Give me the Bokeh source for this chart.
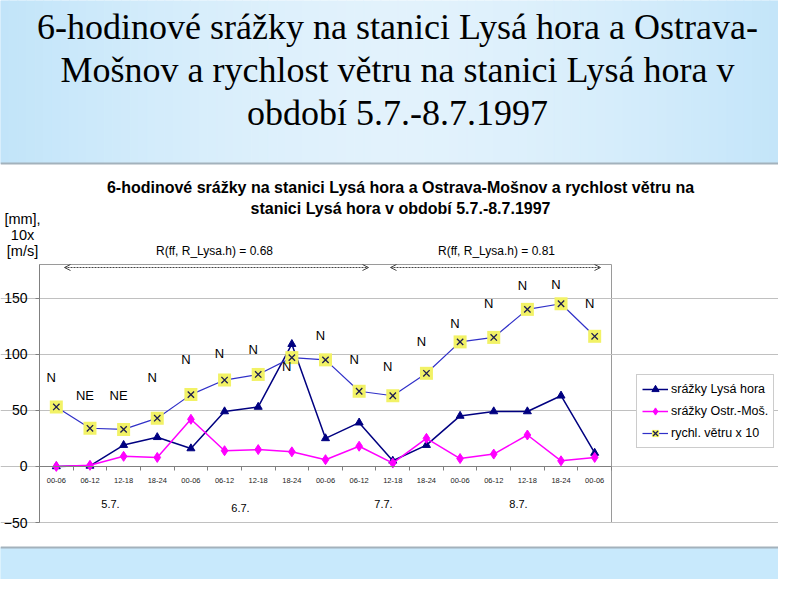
import numpy as np
from bokeh.plotting import figure
from bokeh.models import Range1d, FixedTicker, Legend, LegendItem, Arrow, OpenHead
from bokeh.core.properties import value
from bokeh.embed import file_html
from bokeh.resources import INLINE

# ---------------- data ----------------
slide_title = ["6-hodinové srážky na stanici Lysá hora a Ostrava-",
               "Mošnov a rychlost větru na stanici Lysá hora v",
               "období 5.7.-8.7.1997"]
chart_title = ["6-hodinové srážky na stanici Lysá hora a Ostrava-Mošnov a rychlost větru na",
               "stanici Lysá hora v období 5.7.-8.7.1997"]
y_title = ["[mm],", "10x", "[m/s]"]
periods = ["00-06", "06-12", "12-18", "18-24",
           "00-06", "06-12", "12-18", "18-24",
           "00-06", "06-12", "12-18", "18-24",
           "00-06", "06-12", "12-18", "18-24",
           "00-06"]
days = ["5.7.", "6.7.", "7.7.", "8.7."]
srazky_lysa = [0, 0.5, 19, 26, 16, 49, 53, 109, 25, 39, 5, 19, 45, 49, 49, 63, 12]
srazky_ostrava = [0, 1, 9, 8, 42, 14, 15, 13, 6, 18, 3, 25, 7, 11, 28, 5, 8]
vitr_x10 = [53, 34, 33, 43, 64, 77, 82, 97, 95, 67, 63, 83, 111, 115, 140, 145, 116]
smer_vetru = ["N", "NE", "NE", "N", "N", "N", "N", "N", "N",
              "N", "N", "N", "N", "N", "N", "N", "N"]
corr_labels = ["R(ff, R_Lysa.h) = 0.68", "R(ff, R_Lysa.h) = 0.81"]
series_names = ["srážky Lysá hora", "srážky Ostr.-Moš.", "rychl. větru x 10"]
y_ticks = [-50, 0, 50, 100, 150]

# ---------------- geometry (pixels of the reference picture) ----------------
W, H = 778, 579
PL, PR, PT, PB = 39, 611, 264, 522          # plot area
X0, X1 = 0, len(periods)
Y0, Y1 = -50, 180
SANS = "Liberation Sans"
SERIF = "Liberation Serif"


def dx(px):
    return X0 + (px - PL) / (PR - PL) * (X1 - X0)


def dy(py):
    return Y1 - (py - PT) / (PB - PT) * (Y1 - Y0)


p = figure(width=W, height=H, x_range=Range1d(dx(0), dx(W)), y_range=Range1d(dy(H), dy(0)),
           toolbar_location=None, output_backend="svg", min_border=0)
p.title.visible = False
p.outline_line_color = None
p.background_fill_color = "white"
p.border_fill_color = "white"

# ---------------- slide background ----------------
n = 90
edges = np.linspace(0, W, n + 1)
cx = (edges[:-1] + edges[1:]) / 2
t = np.clip(np.abs(cx - 397) / 397, 0, 1) ** 1.6
c_center = np.array([226, 242, 252])
c_edge = np.array([193, 228, 249])
cols = ["#%02x%02x%02x" % tuple(int(round(v)) for v in (c_center + (c_edge - c_center) * tt)) for tt in t]
p.quad(left=[dx(e) for e in edges[:-1]], right=[dx(e) for e in edges[1:]],
       top=dy(0), bottom=dy(163), fill_color=cols, line_color=cols, level="image")
p.quad(left=dx(0), right=dx(W), top=dy(547), bottom=dy(H),
       fill_color="#c8e9fc", line_color="#c8e9fc", level="image")
for yy in (163, 547):
    p.line(x=[dx(0), dx(W)], y=[dy(yy)] * 2, line_color="#a3b2bc", line_width=2, level="image")

p.text(x=[dx(397)] * 3, y=[dy(26), dy(69), dy(112)], text=slide_title, text_font=value(SERIF),
       text_font_size="36px", text_align="center", text_baseline="alphabetic", text_color="black")

# ---------------- plot area ----------------
p.quad(left=X0, right=X1, bottom=Y0, top=Y1, fill_color=None, line_color="#9a9a9a",
       line_width=1, level="underlay")

xs = [i + 0.5 for i in range(len(periods))]

p.yaxis.fixed_location = X0
p.yaxis.bounds = (Y0, Y1)
p.yaxis.ticker = FixedTicker(ticks=y_ticks, minor_ticks=[])
p.yaxis.axis_line_color = "#808080"
p.yaxis.major_tick_line_color = "#808080"
p.yaxis.major_tick_out = 4
p.yaxis.major_tick_in = 0
p.yaxis.minor_tick_line_color = None
p.yaxis.major_label_standoff = 8
p.yaxis.major_label_text_font = SANS
p.yaxis.major_label_text_font_size = "14px"
p.yaxis.major_label_text_color = "black"
p.ygrid.ticker = FixedTicker(ticks=y_ticks)
p.ygrid.bounds = (X0, X1)
p.ygrid.grid_line_color = "#c0c0c0"
p.xgrid.visible = False

p.xaxis.fixed_location = 0
p.xaxis.bounds = (X0, X1)
p.xaxis.ticker = FixedTicker(ticks=xs, minor_ticks=list(range(len(periods) + 1)))
p.xaxis.major_label_overrides = {x: lab for x, lab in zip(xs, periods)}
p.xaxis.axis_line_color = "#808080"
p.xaxis.major_tick_line_color = None
p.xaxis.minor_tick_line_color = "#808080"
p.xaxis.minor_tick_out = 4
p.xaxis.minor_tick_in = 0
p.xaxis.major_label_standoff = 6
p.xaxis.major_label_text_font = SANS
p.xaxis.major_label_text_font_size = "7.5px"
p.xaxis.major_label_text_color = "#222222"

# ---------------- series ----------------
l1 = p.line(xs, srazky_lysa, line_color="#000080", line_width=1.5)
m1 = p.scatter(xs, srazky_lysa, marker="triangle", size=8, fill_color="#000080", line_color="#000080")
l2 = p.line(xs, srazky_ostrava, line_color="#ff00ff", line_width=1.5)
m2 = p.scatter(xs, srazky_ostrava, marker="diamond", size=10, fill_color="#ff00ff", line_color="#ff00ff")
l3 = p.line(xs, vitr_x10, line_color="#3030c8", line_width=1.2)
m3a = p.scatter(xs, vitr_x10, marker="square", size=13, fill_color="#f2f266", line_color=None)
m3b = p.scatter(xs, vitr_x10, marker="x", size=9, line_color="#1c1c50", line_width=1.3)

# wind direction labels
dir_label_y = [79, 63, 63, 79, 95, 101, 104, 89, 117, 95, 89, 111, 127, 145, 161, 162, 145]
p.text(x=[x - 0.15 for x in xs], y=dir_label_y, text=smer_vetru, text_font=value(SANS),
       text_font_size="13px", text_align="center", text_baseline="middle", text_color="black")

# day labels
day_px = [(110, 503), (240, 507), (383, 503), (518, 503)]
p.text(x=[dx(a) for a, b in day_px], y=[dy(b) for a, b in day_px], text=days,
       text_font=value(SANS), text_font_size="11px", text_align="center",
       text_baseline="middle", text_color="black")

# chart title
p.text(x=[dx(400)] * 2, y=[dy(187), dy(208)], text=chart_title, text_font=value(SANS),
       text_font_size="16px", text_font_style="bold", text_align="center",
       text_baseline="middle", text_color="black")

# y-axis title
p.text(x=[dx(22)] * 3, y=[dy(218), dy(234), dy(250)], text=y_title, text_font=value(SANS),
       text_font_size="14.5px", text_align="center", text_baseline="middle", text_color="black")

# correlation annotations
p.text(x=[dx(214), dx(496)], y=[dy(250)] * 2, text=corr_labels, text_font=value(SANS),
       text_font_size="12px", text_align="center", text_baseline="middle", text_color="black")
for x_a, x_b in [(64, 368), (390, 600)]:
    p.add_layout(Arrow(x_start=dx(x_a), y_start=dy(267), x_end=dx(x_b), y_end=dy(267),
                       start=OpenHead(size=6, line_color="#444444", line_width=1),
                       end=OpenHead(size=6, line_color="#444444", line_width=1),
                       line_color="#444444", line_width=1, line_dash="2 1"))

# ---------------- legend ----------------
legend = Legend(items=[LegendItem(label=series_names[0], renderers=[l1, m1]),
                       LegendItem(label=series_names[1], renderers=[l2, m2]),
                       LegendItem(label=series_names[2], renderers=[l3, m3a, m3b])],
                location=(636, H - 448),
                orientation="vertical", padding=5, spacing=4, margin=0,
                glyph_width=26, glyph_height=18, label_height=18, label_standoff=3,
                label_text_font=SANS, label_text_font_size="12.5px", label_text_color="black",
                border_line_color="#9a9a9a", border_line_width=1,
                background_fill_color="white", background_fill_alpha=1)
p.add_layout(legend, "center")

open("out.html", "w").write(file_html(p, INLINE))
